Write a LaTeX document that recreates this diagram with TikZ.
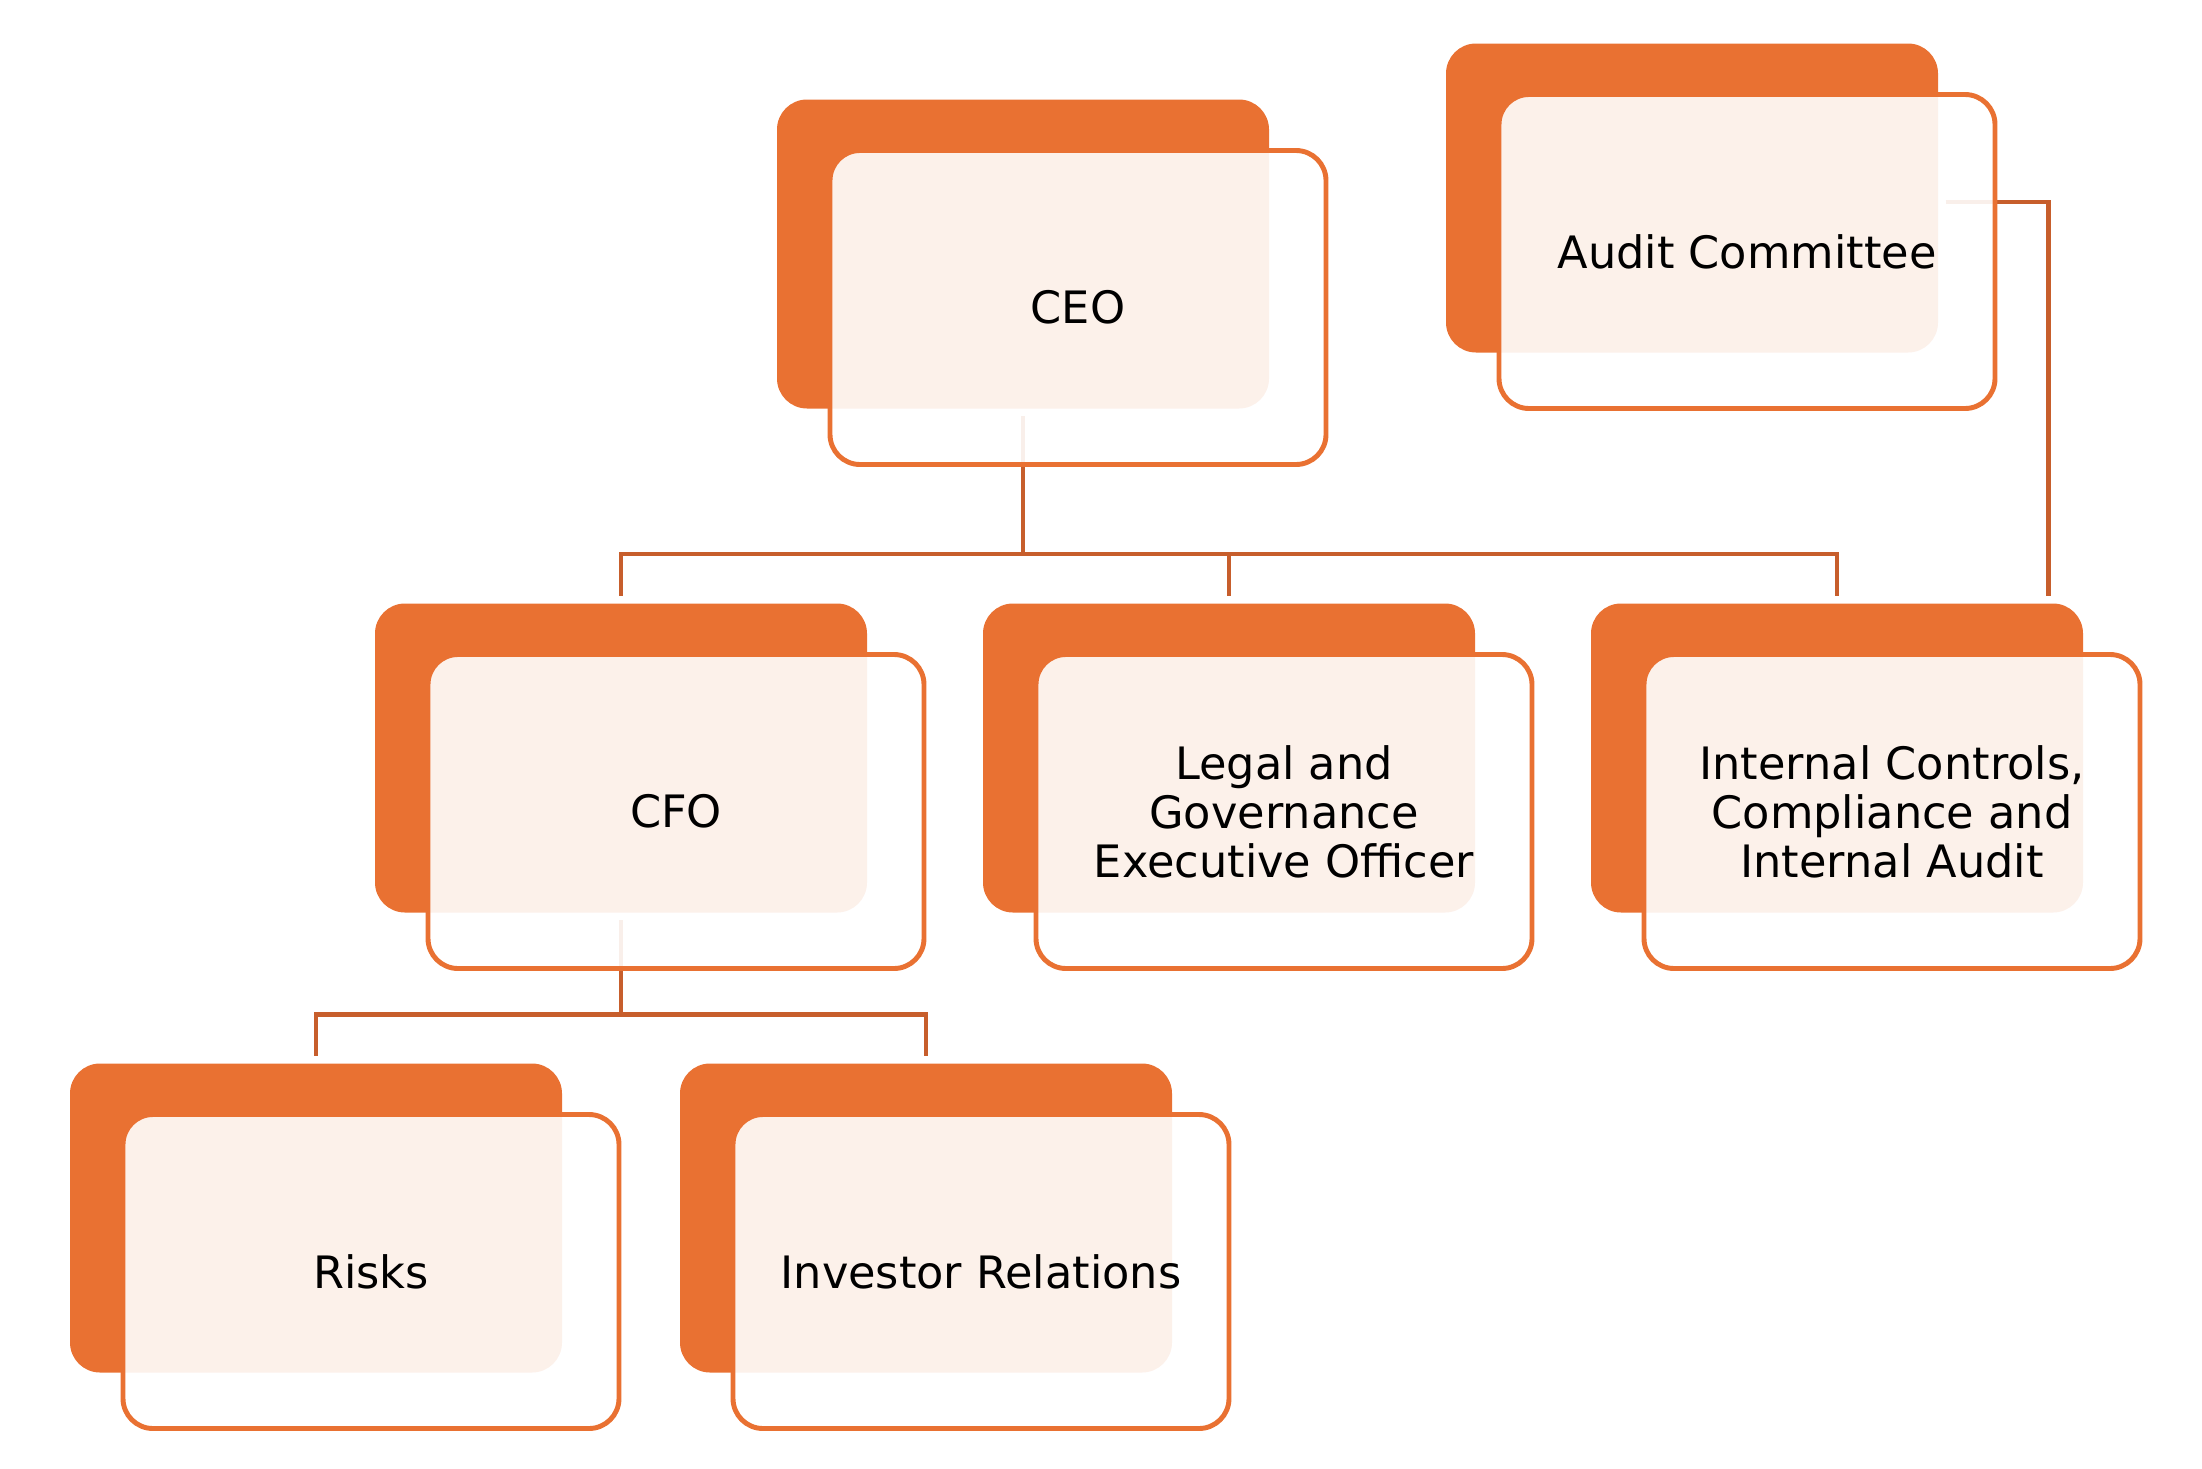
\documentclass[tikz,border=0pt]{standalone}
\usepackage{fontspec}
\setmainfont{DejaVu Sans}
\usepackage{tikz}
\usetikzlibrary{positioning}
\usepackage{xcolor}
\definecolor{boxorange}{RGB}{233, 113, 50}
\definecolor{linkorange}{RGB}{199, 94, 44}

\begin{document}
\begin{tikzpicture}[
            back/.style={
                rectangle,
                rounded corners=0.3cm,
                fill=boxorange,
                inner sep=0pt,
                minimum width=4.92cm,
                minimum height=3.09cm
            },
            front/.style={
                rectangle,
                rounded corners=0.3cm,
                draw=boxorange,
                line width=1.4pt,
                fill=white,
                fill opacity=0.9,
                text opacity=1,
                xshift=5.5mm,
                yshift=-5.35mm,
                minimum width=4.96cm,
                minimum height=3.14cm,
                align=center,
                font=\fontsize{12.7pt}{13.9pt}\selectfont
            },
            link/.style={
                draw=linkorange,
                line width=1.3pt,
                shorten <=0.07cm,
                shorten >=0.07cm
            }
        ]

            \useasboundingbox (0,0) rectangle (22.02,-14.69);

            % Back shapes
            \node[back] (ceoB) at (10.23,-2.54) {};
            \node[back] (audB) at (16.92,-1.98) {};
            \node[back] (cfoB) at (6.21,-7.58) {};
            \node[back] (legB) at (12.29,-7.58) {};
            \node[back] (intB) at (18.37,-7.58) {};
            \node[back] (rskB) at (3.16,-12.18) {};
            \node[back] (invB) at (9.26,-12.18) {};

            % Connectors
            \draw[link] (ceoB.south) -- ++(0,-1.45) -| (cfoB.north);
            \draw[link] (ceoB.south) -- ++(0,-1.45) -| (legB.north);
            \draw[link] (ceoB.south) -- ++(0,-1.45) -| (intB.north);
            \draw[link] (cfoB.south) -- ++(0,-1.014) -| (rskB.north);
            \draw[link] (cfoB.south) -- ++(0,-1.014) -| (invB.north);
            \draw[link] ([yshift=-0.04cm]audB.east) -| ([xshift=-0.355cm]intB.north east);

            % Front boxes
            \node[front] (ceo) at (ceoB) {CEO};
            \node[front] (aud) at (audB) {Audit Committee};
            \node[front] (cfo) at (cfoB) {CFO};
            \node[front] (leg) at (legB) {Legal and\\Governance\\Executive Officer};
            \node[front] (int) at (intB) {Internal Controls,\\Compliance and\\Internal Audit};
            \node[front] (rsk) at (rskB) {Risks};
            \node[front] (inv) at (invB) {Investor Relations};
        \end{tikzpicture}
\end{document}
